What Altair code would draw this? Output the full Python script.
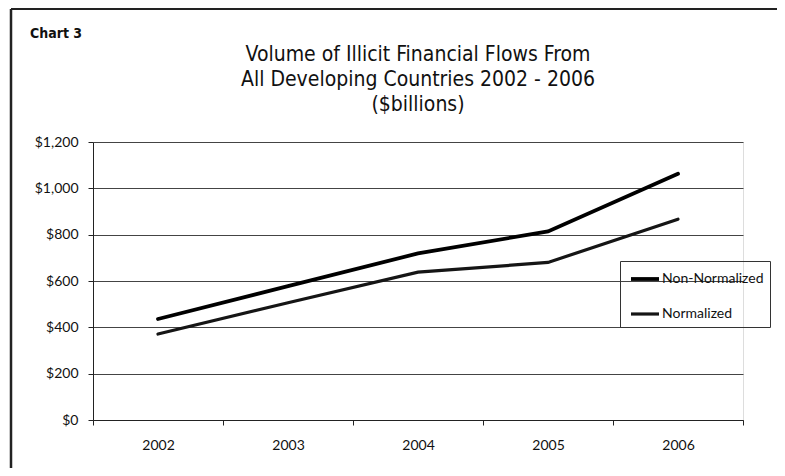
import altair as alt
import pandas as pd

years = ["2002", "2003", "2004", "2005", "2006"]
non_normalized = [436, 578, 719, 814, 1063]
normalized = [371, 506, 638, 680, 867]
series_names = ["Non-Normalized", "Normalized"]

rows = []
for y, a, b in zip(years, non_normalized, normalized):
    rows.append({"Year": y, "Series": series_names[0], "Value": a})
    rows.append({"Year": y, "Series": series_names[1], "Value": b})
df = pd.DataFrame(rows)

LABEL_FONT = "Lato"
TITLE_FONT = "'Liberation Sans Narrow', 'DejaVu Sans Condensed', 'Liberation Sans', sans-serif"

lines = alt.Chart(df).mark_line(strokeCap="round").encode(
    x=alt.X("Year:N", sort=years,
            scale=alt.Scale(type="band", paddingInner=0, paddingOuter=0),
            axis=alt.Axis(title=None, labelAngle=0, grid=False, domain=True,
                          domainColor="#222", tickColor="#222", tickBand="extent",
                          tickSize=5, labelPadding=13, labelFontSize=14,
                          labelFont=LABEL_FONT, labelColor="#111")),
    y=alt.Y("Value:Q",
            scale=alt.Scale(domain=[0, 1200], nice=False),
            axis=alt.Axis(title=None, values=[0, 200, 400, 600, 800, 1000, 1200],
                          format="$,.0f", grid=True, gridColor="#444", gridWidth=1,
                          domain=True, domainColor="#222", tickColor="#222",
                          tickSize=5, labelPadding=10, labelFontSize=14,
                          labelFont=LABEL_FONT, labelColor="#111")),
    color=alt.Color("Series:N", sort=series_names,
                    scale=alt.Scale(domain=series_names, range=["#000000", "#151515"]),
                    legend=alt.Legend(title=None, orient="none", legendX=527, legendY=119,
                                      symbolType="M-1.4,0H1.4", symbolSize=400,
                                      symbolOffset=7, symbolFillColor="transparent",
                                      symbolStrokeWidth=3.5, strokeColor="#333",
                                      padding=6, rowPadding=15, labelFontSize=14,
                                      labelFont=LABEL_FONT, labelColor="#111",
                                      labelOffset=5)),
    strokeWidth=alt.StrokeWidth("Series:N", sort=series_names,
                                scale=alt.Scale(domain=series_names, range=[3.8, 3.2]),
                                legend=None),
)

base = alt.Chart(pd.DataFrame({"k": [0]}))
border_left = base.mark_rule(color="#222", strokeWidth=2.5).encode(
    x=alt.value(-82), y=alt.value(-133), y2=alt.value(334))
border_top = base.mark_rule(color="#222", strokeWidth=2).encode(
    x=alt.value(-82), x2=alt.value(700), y=alt.value(-133))
chart_label = base.mark_text(align="left", baseline="alphabetic", fontSize=14,
                             font=TITLE_FONT, fontWeight="bold", color="#111").encode(
    x=alt.value(-63), y=alt.value(-104), text=alt.value("Chart 3"))

chart = alt.layer(border_left, border_top, chart_label, lines).properties(
    width=650, height=278,
    title=alt.TitleParams(
        text=["Volume of Illicit Financial Flows From",
              "All Developing Countries 2002 - 2006",
              "($billions)"],
        anchor="middle", font=TITLE_FONT, fontSize=21, fontWeight="normal",
        color="#111", lineHeight=25, offset=-107),
    autosize=alt.AutoSizeParams(type="none"),
    padding={"left": 85, "top": 134, "right": 34, "bottom": 48},
).configure_view(stroke=None).configure(background="white")

chart.save("out.html", embed_options={"renderer": "svg", "actions": False})
